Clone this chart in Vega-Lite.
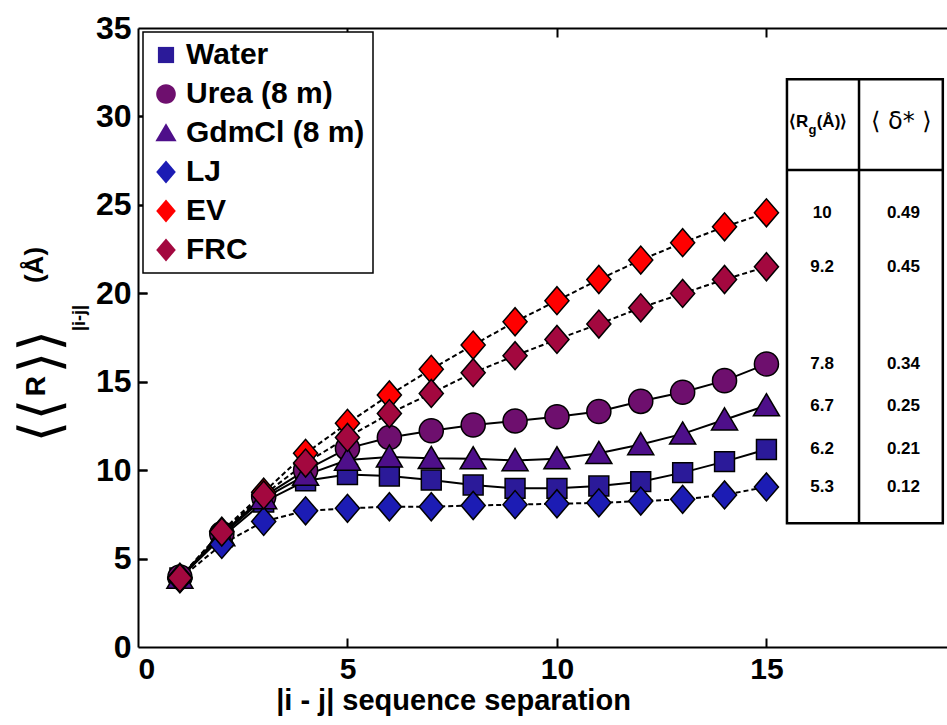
{
  "$schema": "https://vega.github.io/schema/vega-lite/v6.json",
  "width": 809,
  "height": 619,
  "autosize": {"type": "none"},
  "padding": {"left": 138, "top": 28, "right": 0, "bottom": 78},
  "background": "white",
  "config": {
    "view": {"stroke": null},
    "font": "Liberation Sans",
    "axis": {"grid": false, "tickColor": "black", "domainColor": "black", "domainWidth": 2, "tickWidth": 2, "title": null},
    "legend": {
      "orient": "none", "legendX": 5, "legendY": 4,
      "strokeColor": "black", "strokeWidth": 1.5, "fillColor": "white",
      "padding": 8, "rowPadding": 9, "gridAlign": "all", "labelLimit": 400,
      "labelFont": "Liberation Sans", "labelFontWeight": "bold", "labelFontSize": 30, "labelColor": "black",
      "symbolSize": 520, "symbolStrokeColor": "black", "symbolStrokeWidth": 1.5, "labelOffset": 5
    }
  },
  "datasets": {
    "curves": [
      {"series": "Water", "sep": 1, "r": 3.9}, {"series": "Water", "sep": 2, "r": 6.2}, {"series": "Water", "sep": 3, "r": 8.2}, {"series": "Water", "sep": 4, "r": 9.4}, {"series": "Water", "sep": 5, "r": 9.75}, {"series": "Water", "sep": 6, "r": 9.67}, {"series": "Water", "sep": 7, "r": 9.44}, {"series": "Water", "sep": 8, "r": 9.16}, {"series": "Water", "sep": 9, "r": 8.97}, {"series": "Water", "sep": 10, "r": 8.97}, {"series": "Water", "sep": 11, "r": 9.1}, {"series": "Water", "sep": 12, "r": 9.35}, {"series": "Water", "sep": 13, "r": 9.86}, {"series": "Water", "sep": 14, "r": 10.48}, {"series": "Water", "sep": 15, "r": 11.17},
      {"series": "Urea (8 m)", "sep": 1, "r": 3.95}, {"series": "Urea (8 m)", "sep": 2, "r": 6.4}, {"series": "Urea (8 m)", "sep": 3, "r": 8.5}, {"series": "Urea (8 m)", "sep": 4, "r": 10.0}, {"series": "Urea (8 m)", "sep": 5, "r": 11.23}, {"series": "Urea (8 m)", "sep": 6, "r": 11.85}, {"series": "Urea (8 m)", "sep": 7, "r": 12.23}, {"series": "Urea (8 m)", "sep": 8, "r": 12.55}, {"series": "Urea (8 m)", "sep": 9, "r": 12.78}, {"series": "Urea (8 m)", "sep": 10, "r": 13.02}, {"series": "Urea (8 m)", "sep": 11, "r": 13.32}, {"series": "Urea (8 m)", "sep": 12, "r": 13.89}, {"series": "Urea (8 m)", "sep": 13, "r": 14.4}, {"series": "Urea (8 m)", "sep": 14, "r": 15.06}, {"series": "Urea (8 m)", "sep": 15, "r": 16.0},
      {"series": "GdmCl (8 m)", "sep": 1, "r": 3.9}, {"series": "GdmCl (8 m)", "sep": 2, "r": 6.3}, {"series": "GdmCl (8 m)", "sep": 3, "r": 8.4}, {"series": "GdmCl (8 m)", "sep": 4, "r": 9.72}, {"series": "GdmCl (8 m)", "sep": 5, "r": 10.57}, {"series": "GdmCl (8 m)", "sep": 6, "r": 10.75}, {"series": "GdmCl (8 m)", "sep": 7, "r": 10.67}, {"series": "GdmCl (8 m)", "sep": 8, "r": 10.65}, {"series": "GdmCl (8 m)", "sep": 9, "r": 10.55}, {"series": "GdmCl (8 m)", "sep": 10, "r": 10.65}, {"series": "GdmCl (8 m)", "sep": 11, "r": 10.95}, {"series": "GdmCl (8 m)", "sep": 12, "r": 11.45}, {"series": "GdmCl (8 m)", "sep": 13, "r": 12.05}, {"series": "GdmCl (8 m)", "sep": 14, "r": 12.85}, {"series": "GdmCl (8 m)", "sep": 15, "r": 13.65},
      {"series": "LJ", "sep": 1, "r": 3.85}, {"series": "LJ", "sep": 2, "r": 5.8}, {"series": "LJ", "sep": 3, "r": 7.1}, {"series": "LJ", "sep": 4, "r": 7.7}, {"series": "LJ", "sep": 5, "r": 7.84}, {"series": "LJ", "sep": 6, "r": 7.93}, {"series": "LJ", "sep": 7, "r": 7.93}, {"series": "LJ", "sep": 8, "r": 8.0}, {"series": "LJ", "sep": 9, "r": 8.05}, {"series": "LJ", "sep": 10, "r": 8.1}, {"series": "LJ", "sep": 11, "r": 8.15}, {"series": "LJ", "sep": 12, "r": 8.25}, {"series": "LJ", "sep": 13, "r": 8.35}, {"series": "LJ", "sep": 14, "r": 8.6}, {"series": "LJ", "sep": 15, "r": 9.05},
      {"series": "EV", "sep": 1, "r": 3.95}, {"series": "EV", "sep": 2, "r": 6.55}, {"series": "EV", "sep": 3, "r": 8.75}, {"series": "EV", "sep": 4, "r": 10.95}, {"series": "EV", "sep": 5, "r": 12.65}, {"series": "EV", "sep": 6, "r": 14.25}, {"series": "EV", "sep": 7, "r": 15.7}, {"series": "EV", "sep": 8, "r": 17.07}, {"series": "EV", "sep": 9, "r": 18.39}, {"series": "EV", "sep": 10, "r": 19.58}, {"series": "EV", "sep": 11, "r": 20.78}, {"series": "EV", "sep": 12, "r": 21.88}, {"series": "EV", "sep": 13, "r": 22.86}, {"series": "EV", "sep": 14, "r": 23.76}, {"series": "EV", "sep": 15, "r": 24.55},
      {"series": "FRC", "sep": 1, "r": 3.9}, {"series": "FRC", "sep": 2, "r": 6.5}, {"series": "FRC", "sep": 3, "r": 8.6}, {"series": "FRC", "sep": 4, "r": 10.4}, {"series": "FRC", "sep": 5, "r": 11.85}, {"series": "FRC", "sep": 6, "r": 13.2}, {"series": "FRC", "sep": 7, "r": 14.34}, {"series": "FRC", "sep": 8, "r": 15.51}, {"series": "FRC", "sep": 9, "r": 16.47}, {"series": "FRC", "sep": 10, "r": 17.39}, {"series": "FRC", "sep": 11, "r": 18.26}, {"series": "FRC", "sep": 12, "r": 19.18}, {"series": "FRC", "sep": 13, "r": 19.99}, {"series": "FRC", "sep": 14, "r": 20.78}, {"series": "FRC", "sep": 15, "r": 21.5}
    ],
    "table": [
      {"series": "EV", "Rg": "10", "delta": "0.49"},
      {"series": "FRC", "Rg": "9.2", "delta": "0.45"},
      {"series": "Urea (8 m)", "Rg": "7.8", "delta": "0.34"},
      {"series": "GdmCl (8 m)", "Rg": "6.7", "delta": "0.25"},
      {"series": "Water", "Rg": "6.2", "delta": "0.21"},
      {"series": "LJ", "Rg": "5.3", "delta": "0.12"}
    ],
    "one": [{}]
  },
  "resolve": {"axis": {"x": "independent", "y": "independent"}},
  "layer": [
    {
      "data": {"name": "one"},
      "mark": {"type": "rect", "fill": "white", "stroke": "black", "strokeWidth": 2.5},
      "encoding": {
        "x": {"datum": 15.49, "type": "quantitative", "scale": {"domain": [0, 19.31], "nice": false, "zero": false},
          "axis": {"orient": "bottom", "offset": -619, "labels": false, "domain": false, "ticks": true, "tickSize": 9, "values": [5, 10, 15]}},
        "x2": {"datum": 19.21},
        "y": {"datum": 7.0, "type": "quantitative", "scale": {"domain": [0, 35], "nice": false},
          "axis": {"orient": "left", "labels": false, "domain": false, "ticks": true, "tickSize": -9, "values": [5, 10, 15, 20, 25, 30]}},
        "y2": {"datum": 32.1}
      }
    },
    {
      "data": {"name": "one"},
      "mark": {"type": "rule", "color": "black", "strokeWidth": 2.5},
      "encoding": {
        "x": {"datum": 17.21, "type": "quantitative",
          "axis": {"orient": "top", "labels": false, "ticks": false, "domain": true}},
        "y": {"datum": 7.0, "type": "quantitative",
          "axis": {"orient": "right", "offset": -809, "labels": false, "domain": false, "ticks": true, "tickSize": 9, "values": [5, 10, 15, 20, 25, 30]}},
        "y2": {"datum": 32.1}
      }
    },
    {
      "data": {"name": "one"},
      "mark": {"type": "rule", "color": "black", "strokeWidth": 2.5},
      "encoding": {
        "x": {"datum": 15.49, "type": "quantitative",
          "axis": {"orient": "top", "offset": -619, "labels": false, "domain": false, "ticks": true, "tickSize": 9, "values": [5, 10, 15]}},
        "x2": {"datum": 19.21},
        "y": {"datum": 26.97, "type": "quantitative", "axis": null}
      }
    },
    {
      "data": {"name": "curves"},
      "transform": [{"filter": {"field": "series", "oneOf": ["Water", "Urea (8 m)", "GdmCl (8 m)"]}}],
      "mark": {"type": "line", "color": "black", "strokeWidth": 2},
      "encoding": {
        "x": {"field": "sep", "type": "quantitative",
          "axis": {"orient": "bottom", "values": [0, 5, 10, 15], "ticks": false, "domain": true,
            "labelFont": "Liberation Sans", "labelFontWeight": "bold", "labelFontSize": 30, "labelColor": "black", "labelPadding": 7,
            "title": "|i - j| sequence separation", "titleFont": "Liberation Sans", "titleFontWeight": "bold", "titleFontSize": 29, "titleColor": "black",
            "titleX": 315, "titleY": 53, "titleBaseline": "middle", "titleAlign": "center"}},
        "y": {"field": "r", "type": "quantitative",
          "axis": {"orient": "left", "values": [0, 5, 10, 15, 20, 25, 30, 35], "ticks": false, "domain": true,
            "labelFont": "Liberation Sans", "labelFontWeight": "bold", "labelFontSize": 32, "labelColor": "black", "labelPadding": 7, "title": null}},
        "detail": {"field": "series"}
      }
    },
    {
      "data": {"name": "curves"},
      "transform": [{"filter": {"field": "series", "oneOf": ["LJ", "EV", "FRC"]}}],
      "mark": {"type": "line", "color": "black", "strokeWidth": 2, "strokeDash": [5, 3]},
      "encoding": {
        "x": {"field": "sep", "type": "quantitative", "axis": null},
        "y": {"field": "r", "type": "quantitative", "axis": null},
        "detail": {"field": "series"}
      }
    },
    {
      "data": {"name": "curves"},
      "mark": {"type": "point", "filled": true, "stroke": "black", "strokeWidth": 1.5, "opacity": 1, "size": 784},
      "encoding": {
        "x": {"field": "sep", "type": "quantitative", "axis": null},
        "y": {"field": "r", "type": "quantitative", "axis": null},
        "fill": {"field": "series", "type": "nominal",
          "scale": {"domain": ["Water", "Urea (8 m)", "GdmCl (8 m)", "LJ", "EV", "FRC"], "range": ["#2b1a99", "#6e0f6e", "#4e0f8a", "#1c1cb4", "#ff0000", "#a3083f"]},
          "legend": {"title": null}},
        "shape": {"field": "series", "type": "nominal",
          "scale": {"domain": ["Water", "Urea (8 m)", "GdmCl (8 m)", "LJ", "EV", "FRC"],
            "range": ["M-0.71,-0.71L0.71,-0.71L0.71,0.71L-0.71,0.71Z", "M-0.86,0A0.86,0.86,0,1,1,0.86,0A0.86,0.86,0,1,1,-0.86,0Z", "M0,-0.85L0.93,0.73L-0.93,0.73Z", "M-0.86,0L0,-1L0.86,0L0,1Z", "M-0.86,0L0,-1L0.86,0L0,1Z", "M-0.86,0L0,-1L0.86,0L0,1Z"]},
          "legend": {"title": null}}
      }
    },
    {
      "data": {"name": "curves"},
      "transform": [
        {"filter": "datum.sep == 15"},
        {"lookup": "series", "from": {"data": {"name": "table"}, "key": "series", "fields": ["Rg", "delta"]}}
      ],
      "mark": {"type": "text", "font": "Liberation Sans", "fontWeight": "bold", "fontSize": 17, "color": "black", "align": "center", "baseline": "middle"},
      "encoding": {
        "x": {"datum": 16.33, "type": "quantitative", "axis": null},
        "y": {"field": "r", "type": "quantitative", "axis": null},
        "text": {"field": "Rg"}
      }
    },
    {
      "data": {"name": "curves"},
      "transform": [
        {"filter": "datum.sep == 15"},
        {"lookup": "series", "from": {"data": {"name": "table"}, "key": "series", "fields": ["Rg", "delta"]}}
      ],
      "mark": {"type": "text", "font": "Liberation Sans", "fontWeight": "bold", "fontSize": 17, "color": "black", "align": "center", "baseline": "middle"},
      "encoding": {
        "x": {"datum": 18.27, "type": "quantitative", "axis": null},
        "y": {"field": "r", "type": "quantitative", "axis": null},
        "text": {"field": "delta"}
      }
    },
    {
      "data": {"name": "one"},
      "mark": {"type": "text", "text": "⟨R", "font": "Liberation Sans", "fontWeight": "bold", "fontSize": 17, "color": "black", "align": "right", "baseline": "middle"},
      "encoding": {"x": {"datum": 16.0, "type": "quantitative", "axis": null}, "y": {"datum": 29.7, "type": "quantitative", "axis": null}}
    },
    {
      "data": {"name": "one"},
      "mark": {"type": "text", "text": "g", "font": "Liberation Sans", "fontWeight": "bold", "fontSize": 13, "color": "black", "align": "center", "baseline": "middle"},
      "encoding": {"x": {"datum": 16.1, "type": "quantitative", "axis": null}, "y": {"datum": 29.25, "type": "quantitative", "axis": null}}
    },
    {
      "data": {"name": "one"},
      "mark": {"type": "text", "text": "(Å)⟩", "font": "Liberation Sans", "fontWeight": "bold", "fontSize": 17, "color": "black", "align": "left", "baseline": "middle"},
      "encoding": {"x": {"datum": 16.2, "type": "quantitative", "axis": null}, "y": {"datum": 29.7, "type": "quantitative", "axis": null}}
    },
    {
      "data": {"name": "one"},
      "mark": {"type": "text", "text": "⟨ δ* ⟩", "font": "DejaVu Sans", "fontSize": 24, "color": "black", "align": "center", "baseline": "middle"},
      "encoding": {"x": {"datum": 18.22, "type": "quantitative", "axis": null}, "y": {"datum": 29.7, "type": "quantitative", "axis": null}}
    },
    {
      "data": {"name": "one"},
      "mark": {"type": "text", "text": "⟨⟨", "font": "DejaVu Sans", "fontSize": 56, "color": "black", "align": "center", "baseline": "middle", "angle": 270},
      "encoding": {"x": {"datum": -2.3, "type": "quantitative", "axis": null}, "y": {"datum": 12.8, "type": "quantitative", "axis": null}}
    },
    {
      "data": {"name": "one"},
      "mark": {"type": "text", "text": "R", "font": "Liberation Sans", "fontWeight": "bold", "fontSize": 28, "color": "black", "align": "center", "baseline": "middle", "angle": 270},
      "encoding": {"x": {"datum": -2.4, "type": "quantitative", "axis": null}, "y": {"datum": 14.75, "type": "quantitative", "axis": null}}
    },
    {
      "data": {"name": "one"},
      "mark": {"type": "text", "text": "⟩⟩", "font": "DejaVu Sans", "fontSize": 56, "color": "black", "align": "center", "baseline": "middle", "angle": 270},
      "encoding": {"x": {"datum": -2.3, "type": "quantitative", "axis": null}, "y": {"datum": 16.7, "type": "quantitative", "axis": null}}
    },
    {
      "data": {"name": "one"},
      "mark": {"type": "text", "text": "|i-j|", "font": "Liberation Sans", "fontWeight": "bold", "fontSize": 18, "color": "black", "align": "center", "baseline": "middle", "angle": 270},
      "encoding": {"x": {"datum": -1.38, "type": "quantitative", "axis": null}, "y": {"datum": 18.6, "type": "quantitative", "axis": null}}
    },
    {
      "data": {"name": "one"},
      "mark": {"type": "text", "text": "(Å)", "font": "Liberation Sans", "fontWeight": "bold", "fontSize": 26, "color": "black", "align": "center", "baseline": "middle", "angle": 270},
      "encoding": {"x": {"datum": -2.45, "type": "quantitative", "axis": null}, "y": {"datum": 21.6, "type": "quantitative", "axis": null}}
    }
  ]
}
